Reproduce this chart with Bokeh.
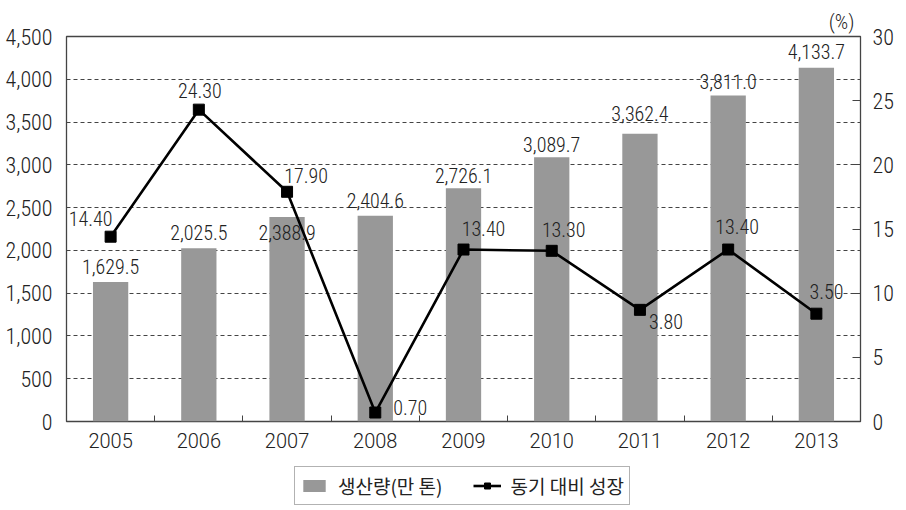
from bokeh.plotting import figure
from bokeh.layouts import column
from bokeh.models import (Range1d, FactorRange, LinearAxis, CategoricalAxis, SingleIntervalTicker,
                          NumeralTickFormatter, ColumnDataSource, Legend, LegendItem)
from bokeh.core.properties import value
from bokeh.embed import file_html
from bokeh.resources import INLINE

# ---- data ----
years = ["2005", "2006", "2007", "2008", "2009", "2010", "2011", "2012", "2013"]
production = [1629.5, 2025.5, 2388.9, 2404.6, 2726.1, 3089.7, 3362.4, 3811.0, 4133.7]
production_labels = ["1,629.5", "2,025.5", "2,388.9", "2,404.6", "2,726.1",
                     "3,089.7", "3,362.4", "3,811.0", "4,133.7"]
growth = [14.4, 24.3, 17.9, 0.7, 13.4, 13.3, 8.7, 13.4, 8.4]
growth_labels = ["14.40", "24.30", "17.90", "0.70", "13.40", "13.30", "3.80", "13.40", "3.50"]
bar_name = "생산량(만 톤)"
line_name = "동기 대비 성장"
unit_label = "(%)"

# ---- label placement (screen pixels, style only) ----
bar_label_dy = [-16, -16, 15, -15, -13, -13, -20, -14, -16]
line_label_dx = [-20, 1, 19, 35, 20, 12, 26, 9, 10]
line_label_dy = [-18, -19, -16, -5, -21, -21, 12, -23, -22]

NARROW = ("'Roboto Condensed Light', 'Liberation Sans Narrow', 'Roboto Condensed', "
          "'DejaVu Sans Condensed', 'Liberation Sans', sans-serif")
REG = "'Roboto Light', Roboto, 'Liberation Sans', sans-serif"
TXT = "#222222"
BAR = "#989898"

src = ColumnDataSource(dict(year=years, production=production, plab=production_labels,
                            growth=growth, glab=growth_labels, bdy=bar_label_dy,
                            ldx=line_label_dx, ldy=line_label_dy))

p = figure(width=906, height=460, x_range=FactorRange(*years), y_range=Range1d(0, 4500),
           output_backend="svg", toolbar_location=None,
           min_border_left=66, min_border_right=46, min_border_top=36, min_border_bottom=39)
p.extra_y_ranges = {"pct": Range1d(0, 30)}
# boundaries between neighbouring years (for the small inner ticks), unlabelled
boundaries = [" " * (i + 1) for i in range(len(years) - 1)]
p.extra_x_ranges = {"bnd": FactorRange(*boundaries, range_padding=0.5,
                                       range_padding_units="absolute")}

p.background_fill_color = "white"
p.border_fill_color = "white"
p.outline_line_color = "#444444"
p.outline_line_width = 1.3

# unit title above right axis
p.title.text = unit_label
p.title.align = "right"
p.title.text_font = NARROW
p.title.text_font_size = "21px"
p.title.text_font_style = "normal"
p.title.text_color = TXT
p.title.standoff = 6
p.title.offset = 6

# grid
p.xgrid.visible = False
p.ygrid.ticker = SingleIntervalTicker(interval=500)
p.ygrid.grid_line_color = "#444444"
p.ygrid.grid_line_dash = "4 3"
p.ygrid.grid_line_width = 1

# left axis
ya = p.yaxis[0]
ya.ticker = SingleIntervalTicker(interval=500)
ya.formatter = NumeralTickFormatter(format="0,0")
ya.major_tick_in = 0
ya.major_tick_out = 0
ya.minor_tick_line_color = None
ya.axis_line_color = None
ya.major_label_standoff = 10
ya.major_label_text_font = NARROW
ya.major_label_text_font_size = "22px"
ya.major_label_text_color = TXT

# right axis
ra = LinearAxis(y_range_name="pct", ticker=SingleIntervalTicker(interval=5))
ra.major_tick_in = 8
ra.major_tick_out = 0
ra.major_tick_line_color = "#444444"
ra.minor_tick_line_color = None
ra.axis_line_color = None
ra.major_label_standoff = 8
ra.major_label_text_font = NARROW
ra.major_label_text_font_size = "22px"
ra.major_label_text_color = TXT
p.add_layout(ra, "right")

# bottom category axis
xa = p.xaxis[0]
xa.major_tick_in = 0
xa.major_tick_out = 0
xa.axis_line_color = None
xa.major_label_standoff = 6
xa.major_label_text_font = REG
xa.major_label_text_font_size = "20px"
xa.major_label_text_color = TXT

# small inner ticks between categories
ta = CategoricalAxis(x_range_name="bnd")
ta.major_tick_in = 6
ta.major_tick_out = 0
ta.major_tick_line_color = "#444444"
ta.axis_line_color = None
ta.major_label_standoff = 0
ta.major_label_text_font_size = "2px"
p.below = [ta] + list(p.below)

# glyphs
bars = p.vbar(x="year", top="production", width=0.4, source=src,
              fill_color=BAR, line_color=None)
ln = p.line(x="year", y="growth", source=src, y_range_name="pct",
            line_color="black", line_width=2.6)
mk = p.scatter(x="year", y="growth", source=src, y_range_name="pct",
               marker="square", size=11, fill_color="black", line_color="black")

p.text(x="year", y="production", text="plab", source=src, y_offset="bdy",
       text_align="center", text_baseline="middle", text_font=value(NARROW),
       text_font_size="20px", text_color=TXT)
p.text(x="year", y="growth", text="glab", source=src, y_range_name="pct",
       x_offset="ldx", y_offset="ldy",
       text_align="center", text_baseline="middle", text_font=value(NARROW),
       text_font_size="20px", text_color=TXT)

# ---- legend strip below the chart (same data, kept far outside its visible range) ----
q = figure(width=906, height=50, x_range=FactorRange(*years), y_range=Range1d(100000, 100001),
           output_backend="svg", toolbar_location=None, min_border=0,
           x_axis_location=None, y_axis_location=None)
q.outline_line_color = None
q.grid.visible = False
q.background_fill_color = "white"
q.border_fill_color = "white"
lb = q.vbar(x="year", top="production", width=0.4, source=src, fill_color=BAR, line_color=None)
ll = q.line(x="year", y="growth", source=src, line_color="black", line_width=2.6)
lm = q.scatter(x="year", y="growth", source=src, marker="square", size=11,
               fill_color="black", line_color="black")

legend = Legend(items=[LegendItem(label=bar_name, renderers=[lb]),
                       LegendItem(label=line_name, renderers=[ll, lm])],
                orientation="horizontal", location=(228, 5),
                border_line_color="#666666", border_line_width=1,
                glyph_width=28, glyph_height=15, label_standoff=10, spacing=30,
                padding=5, margin=0, label_height=18,
                label_text_font="Noto Sans CJK KR", label_text_font_size="19px",
                label_text_color=TXT, background_fill_color="white")
q.add_layout(legend, "center")

layout = column(p, q, spacing=0)
open("out.html", "w").write(file_html(layout, INLINE))
